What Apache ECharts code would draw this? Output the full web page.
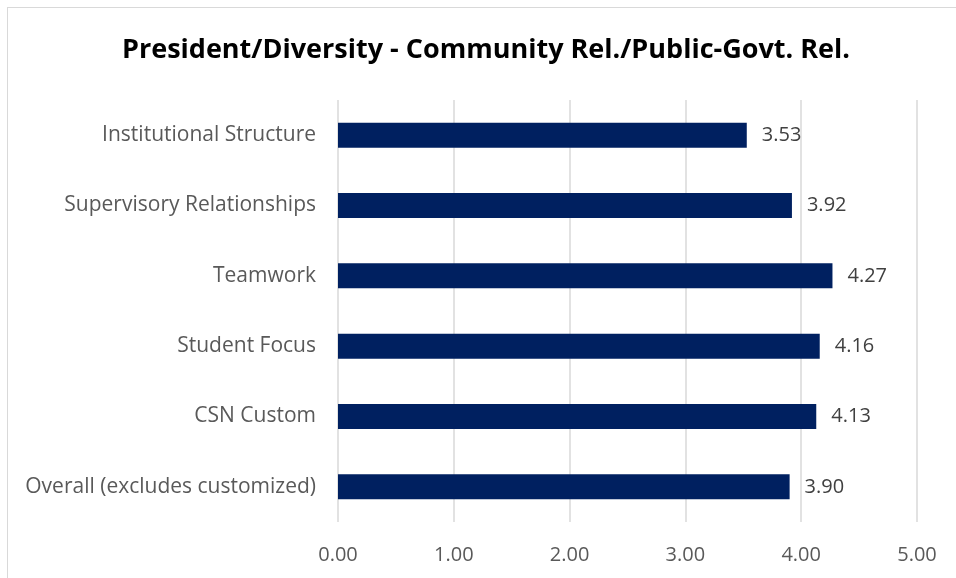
<!DOCTYPE html>
<html>
<head>
<meta charset="utf-8">
<script src="https://cdn.jsdelivr.net/npm/echarts@6/dist/echarts.min.js"></script>
<style>
  html, body { margin: 0; padding: 0; background: #ffffff; }
  #frame { position: absolute; left: 7px; top: 7px; width: 960px; height: 590px; border: 1.5px solid #d9d9d9; box-sizing: border-box; }
  #chart { position: absolute; left: 0; top: 0; width: 956px; height: 578px; }
</style>
</head>
<body>
<div id="frame"></div>
<div id="chart"></div>
<script>
// Survey dimensions, listed top to bottom as shown
const categories = [
  'Institutional Structure',
  'Supervisory Relationships',
  'Teamwork',
  'Student Focus',
  'CSN Custom',
  'Overall (excludes customized)'
];
const scores = [3.53, 3.92, 4.27, 4.16, 4.13, 3.90];
const axisTicks = [0, 1, 2, 3, 4, 5];

const font = '"Open Sans", "Noto Sans", sans-serif';
const chart = echarts.init(document.getElementById('chart'), null, { renderer: 'canvas' });

chart.setOption({
  animation: false,
  title: {
    text: 'President/Diversity - Community Rel./Public-Govt. Rel.',
    left: 117,
    top: 32,
    textStyle: { fontFamily: font, fontWeight: 'bold', fontSize: 27, color: '#000000' }
  },
  grid: { left: 338, right: 39, top: 100, bottom: 56, containLabel: false },
  xAxis: {
    type: 'value',
    min: axisTicks[0],
    max: axisTicks[axisTicks.length - 1],
    interval: 1,
    axisLine: { show: false },
    axisTick: { show: false },
    splitLine: { show: true, lineStyle: { color: '#d9d9d9', width: 1.5 } },
    axisLabel: {
      margin: 23,
      color: '#595959',
      fontFamily: font,
      fontSize: 20,
      formatter: v => v.toFixed(2)
    }
  },
  yAxis: {
    type: 'category',
    inverse: true,
    data: categories,
    axisLine: { show: false },
    axisTick: { show: false },
    axisLabel: { margin: 22, color: '#595959', fontFamily: font, fontSize: 21 }
  },
  series: [{
    type: 'bar',
    data: scores,
    barWidth: 25,
    itemStyle: { color: '#002060' },
    label: {
      show: true,
      position: 'right',
      distance: 15,
      color: '#404040',
      fontFamily: font,
      fontSize: 20,
      formatter: p => p.value.toFixed(2)
    }
  }]
});
</script>
</body>
</html>
